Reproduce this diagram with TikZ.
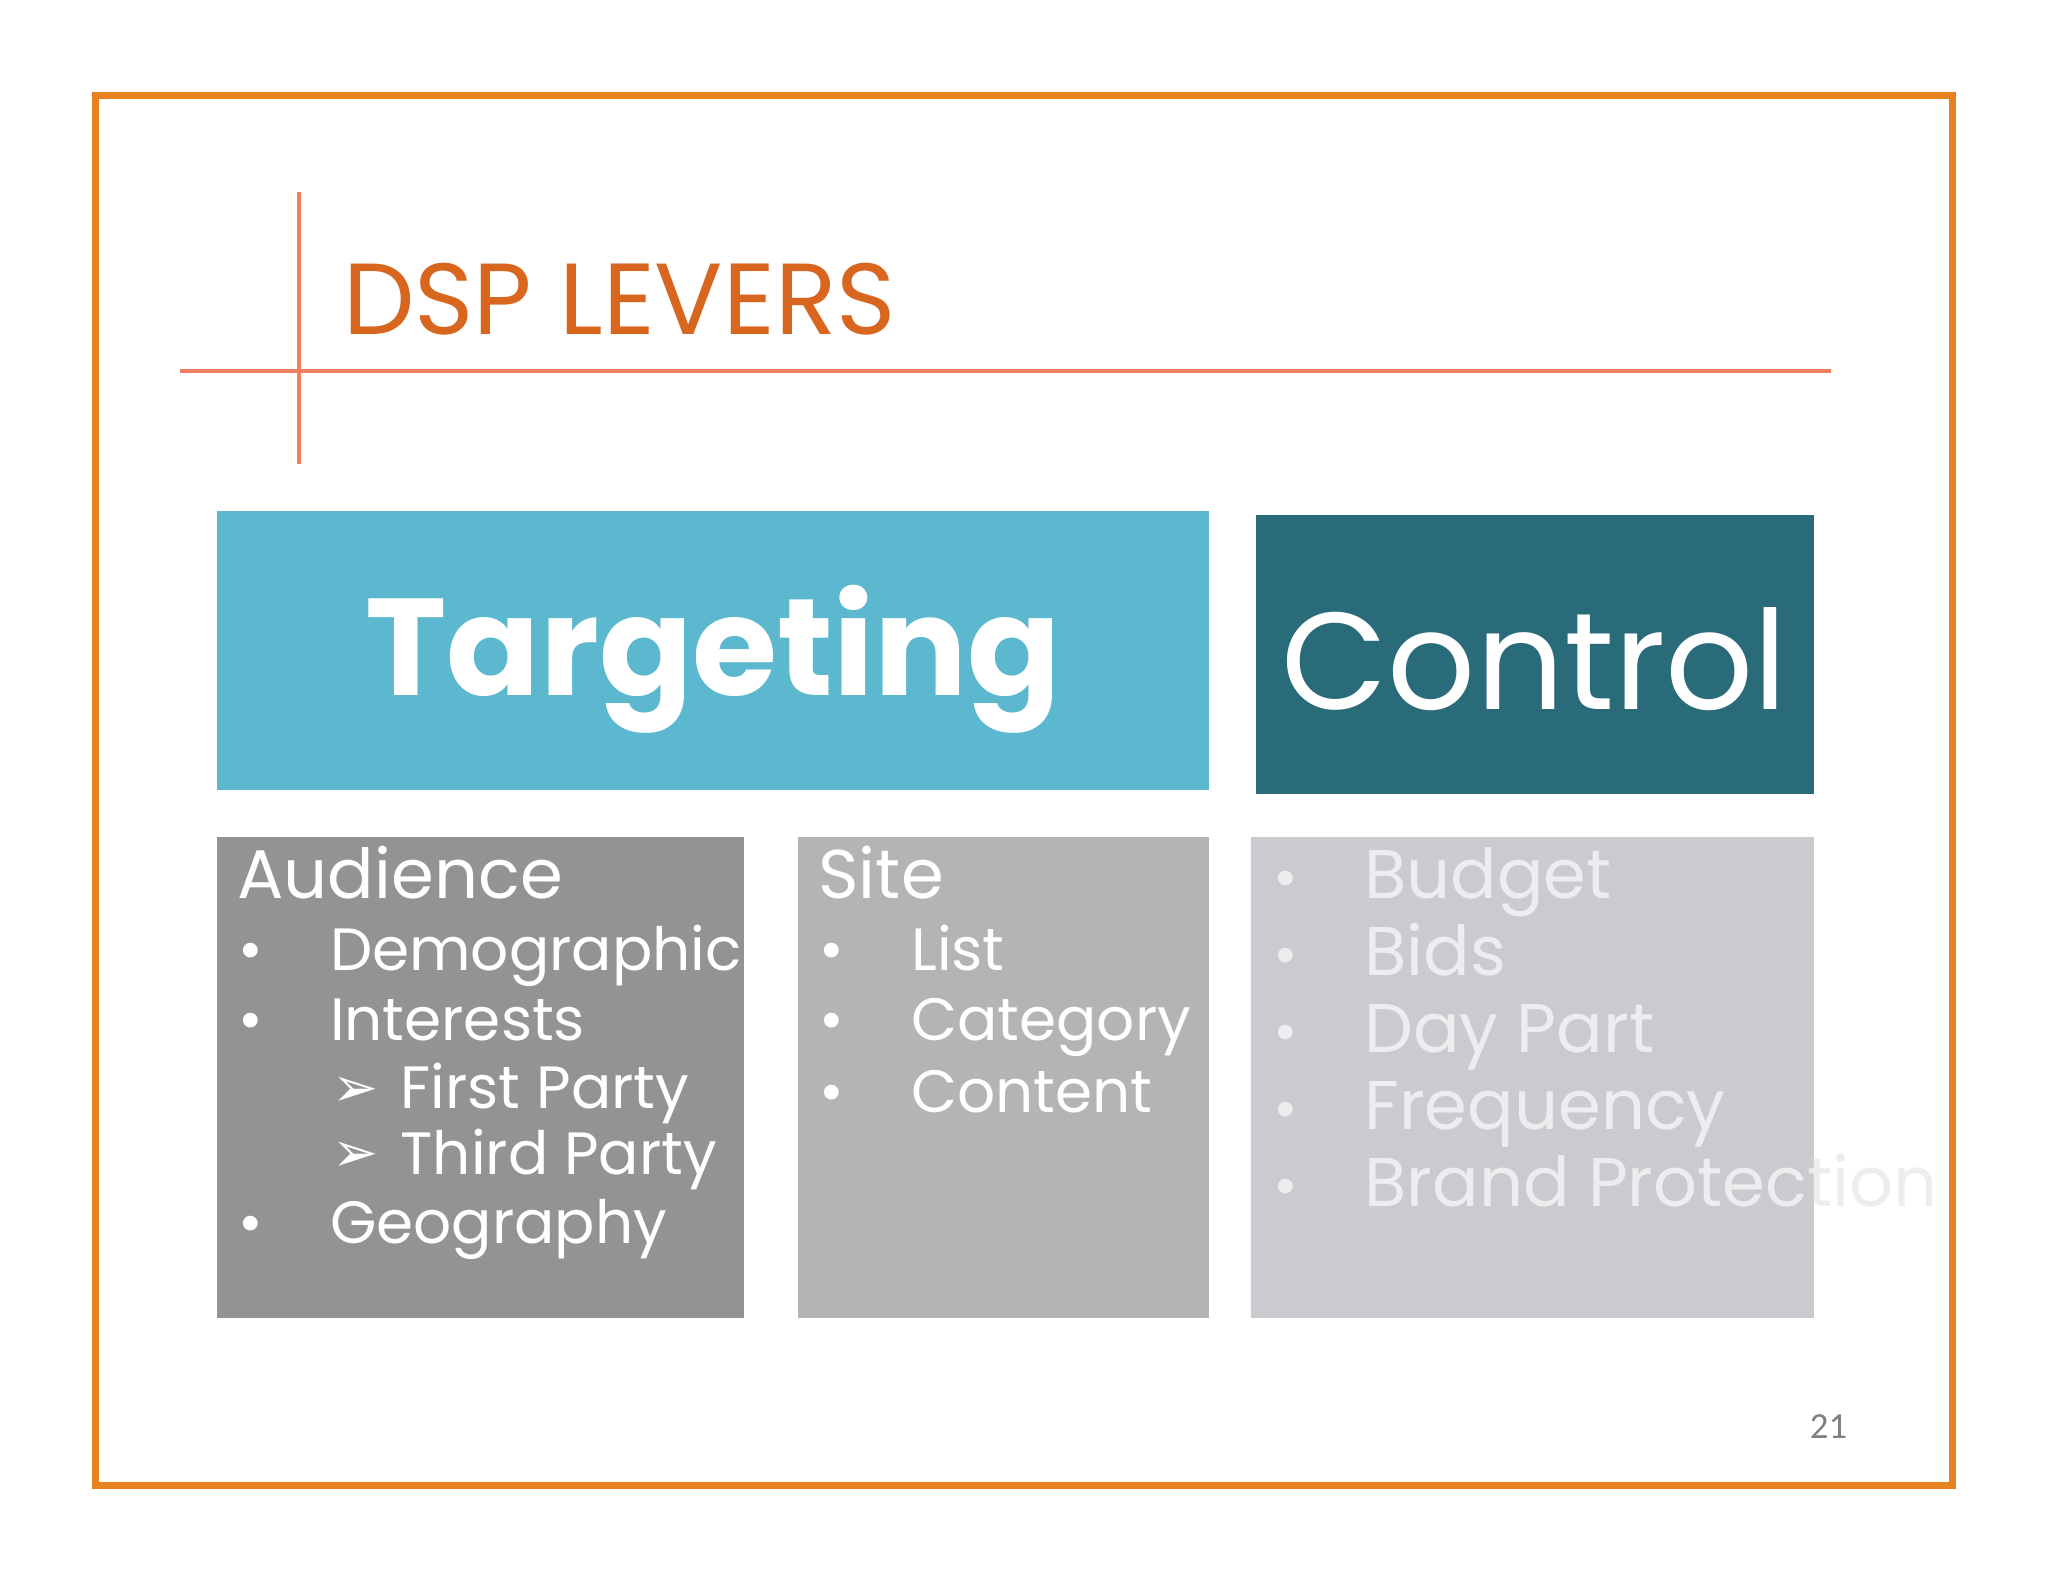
\documentclass[tikz,border=0pt]{standalone}
\usepackage{fontspec}
\setmainfont{Poppins}
\newfontfamily\djfont{DejaVu Sans}
\newfontfamily\numfont{Carlito}
\definecolor{frameor}{HTML}{E8821E}
\definecolor{coral}{HTML}{EE8060}
\definecolor{titleor}{HTML}{D9661F}
\definecolor{tgt}{HTML}{5BB8CF}
\definecolor{ctl}{HTML}{2A6B7A}
\definecolor{aud}{HTML}{939393}
\definecolor{site}{HTML}{B4B4B4}
\definecolor{cbox}{HTML}{CBCACE}
\definecolor{ctxt}{HTML}{EDEDEF}
\begin{document}
\begin{tikzpicture}[x=0.01cm,y=-0.01cm,
  item/.style={anchor=base west,inner sep=0pt,text=white,font=\fontsize{13}{15}\selectfont},
  citem/.style={item,text=ctxt}]
\useasboundingbox[fill=white] (0,0) rectangle (1568,1211);
\draw[frameor,line width=1.5pt] (73,73) rectangle (1495,1137);
\draw[coral,line width=0.9pt] (229,147) -- (229,355);
\draw[coral,line width=0.7pt] (138,284) -- (1402,284);
\node[anchor=base west,inner sep=0pt,text=titleor,font=\fontsize{22}{26}\selectfont] (title) at (262,256) {DSP LEVERS};
\fill[tgt] (166,391) rectangle (926,605);
\node[text=white,font=\fontsize{30}{34}\selectfont\bfseries] (targ) at (546,505) {Targeting};
\fill[ctl] (962,394) rectangle (1389,608);
\node[text=white,font=\fontsize{30}{34}\selectfont] (ctrl) at (1175,505) {Control};
\fill[aud] (166,641) rectangle (570,1009);
\fill[site] (611,641) rectangle (926,1009);
\fill[cbox] (958,641) rectangle (1389,1009);
% audience
\node[item,font=\fontsize{15}{17}\selectfont] (a0) at (181,688) {Audience};
\foreach \y/\t [count=\i] in {743/Demographic,797/Interests/Behavior,952/Geography}{
  \node[item] (ab\i) at (182,\y) {\textbullet};
  \node[item] (at\i) at (252,\y) {\t};}
\node[item,font=\djfont\fontsize{12}{14}\selectfont] (aa1) at (254,847) {➢};
\node[item] (fp) at (306,849) {First Party};
\node[item,font=\djfont\fontsize{12}{14}\selectfont] (aa2) at (254,897) {➢};
\node[item] (tp) at (306,899) {Third Party};
% site
\node[item,font=\fontsize{15}{17}\selectfont] (s0) at (626,688) {Site};
\foreach \y/\t [count=\i] in {743/List,797/Category,852/Content}{
  \node[item] (sb\i) at (627,\y) {\textbullet};
  \node[item] (st\i) at (697,\y) {\t};}
% control list
\foreach \y/\t [count=\i] in {688/Budget,747/Bids,806/Day Part,865/Frequency,924/Brand Protection}{
  \node[citem] (cb\i) at (974,\y) {\textbullet};
  \node[citem,font=\fontsize{15}{17}\selectfont] (ct\i) at (1044,\y) {\t};}
\node[text=gray,font=\numfont\fontsize{8}{10}\selectfont] (pg) at (1400,1092) {21};
\end{tikzpicture}
\end{document}
